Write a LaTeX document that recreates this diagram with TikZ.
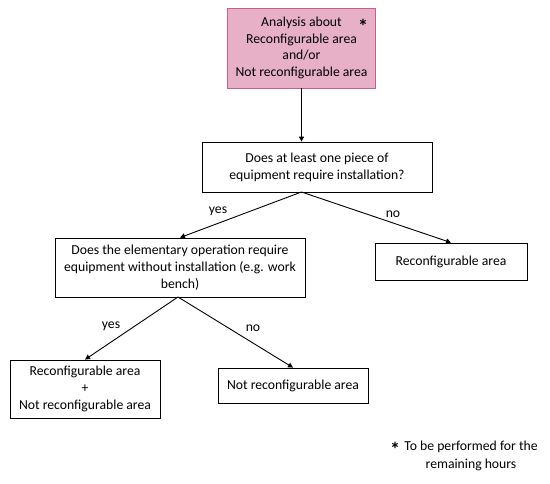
\documentclass[tikz,border=0pt]{standalone}
\usepackage{fontspec}
\setmainfont{Carlito}
\usetikzlibrary{arrows.meta}
\definecolor{pinkfill}{RGB}{231,176,199}
\definecolor{pinkdraw}{RGB}{196,96,140}
\tikzset{
  x=1pt, y=-1pt,
  box/.style={draw=black, line width=0.8pt, fill=white, rectangle, inner sep=0pt, align=center,
    font=\fontsize{13.7}{16.7}\selectfont},
  startbox/.style={box, draw=pinkdraw, fill=pinkfill},
  lbl/.style={inner sep=0pt, font=\fontsize{13.7}{16.7}\selectfont},
  star/.style={inner sep=0pt, font=\fontsize{20}{20}\selectfont\bfseries},
  arr/.style={draw=black, line width=0.9pt, -{Triangle[length=5pt,width=5pt]}},
}
\begin{document}
\begin{tikzpicture}
\useasboundingbox (0,0) rectangle (550,484);
\node[startbox, minimum width=148pt, minimum height=80pt] (top) at (301.5,48)
  {Analysis about\\Reconfigurable area\\and/or\\Not reconfigurable area};
\node[star] (s1) at (363,26) {*};
\node[box, minimum width=230pt, minimum height=50pt] (q1) at (317,167)
  {Does at least one piece of\\equipment require installation?};
\node[box, minimum width=250pt, minimum height=59pt] (q2) at (180,267.5)
  {Does the elementary operation require\\equipment without installation (e.g. work\\bench)};
\node[box, minimum width=152pt, minimum height=37pt] (r4) at (451,261.5)
  {Reconfigurable area};
\node[box, minimum width=150pt, minimum height=58pt] (r5) at (85,389)
  {Reconfigurable area\\+\\Not reconfigurable area};
\node[box, minimum width=150pt, minimum height=35pt] (r6) at (293,385.5)
  {Not reconfigurable area};

\draw[arr] (top.south -| 301.5,0) -- (q1.north -| 301.5,0);
\coordinate (q1b) at (301.5,192);
\coordinate (q2b) at (178,297);
\draw[arr] (q1b) -- (q2.north);
\draw[arr] (q1b) -- (r4.north);
\draw[arr] (q2b) -- (r5.north);
\draw[arr] (q2b) -- (r6.north);

\node[lbl] (yes1) at (218,211) {yes};
\node[lbl] (no1) at (393,214) {no};
\node[lbl] (yes2) at (111,326) {yes};
\node[lbl] (no2) at (253,328) {no};

\node[star] (s2) at (395,449) {*};
\node[lbl, anchor=base] (fn1) at (471,450.5) {To be performed for the};
\node[lbl, anchor=base] (fn2) at (471,468.5) {remaining hours};
\end{tikzpicture}
\end{document}
